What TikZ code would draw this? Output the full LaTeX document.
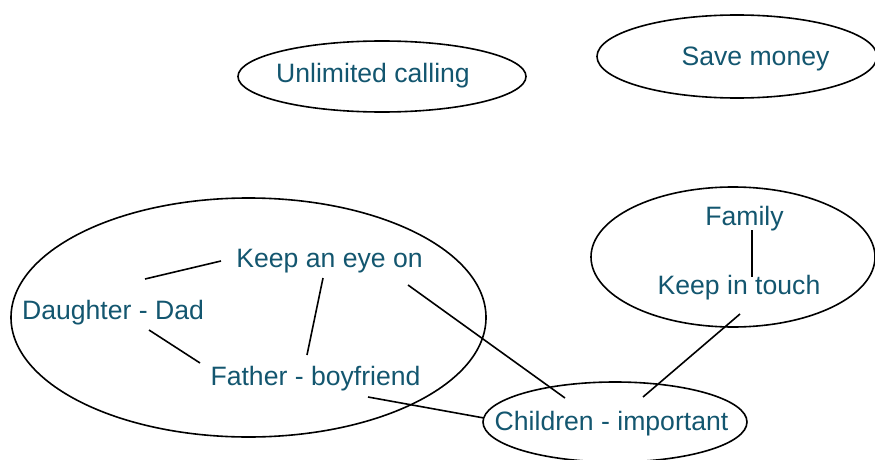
\documentclass[tikz,border=0pt]{standalone}
\usepackage{fontspec}
\setmainfont{Liberation Sans}
\usetikzlibrary{calc}
\definecolor{txtcol}{HTML}{13566F}
\tikzset{
  lbl/.style={text=txtcol, font=\fontsize{26.6}{30}\selectfont, inner sep=0pt, text height=19pt, text depth=5.5pt, anchor=center},
  grp/.style={draw=black, line width=1.6pt},
  link/.style={draw=black, line width=1.6pt},
}
\begin{document}
\begin{tikzpicture}[x=1pt,y=-1pt]
\useasboundingbox (0,0) rectangle (875,460);
% group ellipses
\draw[grp] (382,76.5) ellipse [x radius=144pt, y radius=35.5pt];
\draw[grp] (737,56.5) ellipse [x radius=140pt, y radius=41.5pt];
\draw[grp] (248.5,317.5) ellipse [x radius=237.5pt, y radius=119.5pt];
\draw[grp] (733,257) ellipse [x radius=142pt, y radius=70pt];
\draw[grp] (615,422) ellipse [x radius=132pt, y radius=40pt];
% labels
\node[lbl] (cal) at (373,75.5) {Unlimited calling};
\node[lbl] (sav) at (755.5,58.5) {Save money};
\node[lbl] (eye) at (329.5,260.5) {Keep an eye on};
\node[lbl] (dad) at (113,312.5) {Daughter - Dad};
\node[lbl] (fat) at (315.5,378.5) {Father - boyfriend};
\node[lbl] (chi) at (611.5,423.5) {Children - important};
\node[lbl] (fam) at (744.5,218.5) {Family};
\node[lbl] (tou) at (739,287.5) {Keep in touch};
% connectors
\draw[link] ($(eye)+(-108.5,0.5)$) -- ($(dad)+(32,-33.5)$);
\draw[link] ($(eye)+(-6.5,17.5)$) -- ($(fat)+(-8.5,-23.5)$);
\draw[link] ($(dad)+(36,17.5)$) -- ($(fat)+(-115.5,-15.5)$);
\draw[link] ($(eye)+(78.5,24.5)$) -- ($(chi)+(-46.5,-25.5)$);
\draw[link] ($(fat)+(52.5,18.5)$) -- ($(chi)+(-127.5,-5.5)$);
\draw[link] ($(tou)+(1,26.5)$) -- ($(chi)+(31.5,-26.5)$);
\draw[link] ($(fam)+(7.5,11.5)$) -- ($(tou)+(13,-10.5)$);
\end{tikzpicture}
\end{document}
